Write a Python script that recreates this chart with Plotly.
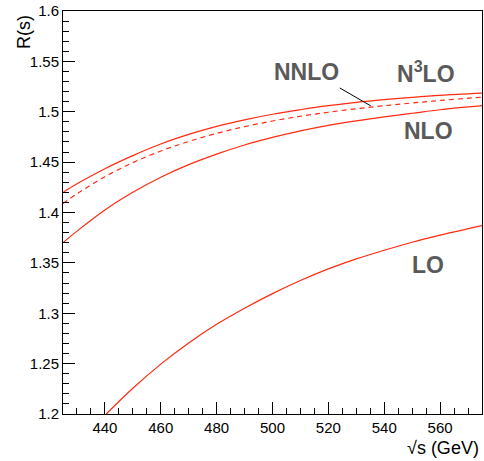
import plotly.graph_objects as go

# Data
x_lo = [440.5, 450, 460, 470, 480, 490, 500, 510, 520, 530, 540, 550, 560, 575]
r_lo = [1.2000, 1.2255, 1.2495, 1.2705, 1.2890, 1.3050, 1.3195, 1.3325, 1.3440, 1.3540, 1.3625, 1.3705, 1.3775, 1.3870]

x_ho = [425, 430, 440, 450, 460, 470, 480, 490, 500, 510, 520, 530, 540, 550, 560, 575]
r_nlo = [1.3700, 1.3815, 1.4025, 1.4200, 1.4350, 1.4475, 1.4580, 1.4670, 1.4745, 1.4810, 1.4865, 1.4910, 1.4950, 1.4985, 1.5020, 1.5060]
r_nnlo = [1.4090, 1.4185, 1.4355, 1.4495, 1.4610, 1.4705, 1.4785, 1.4852, 1.4908, 1.4955, 1.4995, 1.5030, 1.5060, 1.5087, 1.5112, 1.5145]
r_n3lo = [1.4200, 1.4285, 1.4435, 1.4565, 1.4680, 1.4775, 1.4855, 1.4920, 1.4975, 1.5020, 1.5060, 1.5093, 1.5120, 1.5143, 1.5163, 1.5185]

labels = ["LO", "NLO", "NNLO", "N<sup>3</sup>LO"]
label_x = [555.5, 555.8, 512.0, 555.1]
label_y = [1.348, 1.481, 1.539, 1.539]

# pointer segment from NNLO label to dashed curve
pointer_x = [524.1, 535.2]
pointer_y = [1.5236, 1.5058]

RED = "#ff2a10"
FONT = "Liberation Sans, Arial, Helvetica, sans-serif"

fig = go.Figure()
fig.add_trace(go.Scatter(x=x_lo, y=r_lo, mode="lines", line=dict(color=RED, width=1.2, shape="spline")))
fig.add_trace(go.Scatter(x=x_ho, y=r_nlo, mode="lines", line=dict(color=RED, width=1.2, shape="spline")))
fig.add_trace(go.Scatter(x=x_ho, y=r_nnlo, mode="lines", line=dict(color=RED, width=1.2, shape="spline", dash="5px,4px")))
fig.add_trace(go.Scatter(x=x_ho, y=r_n3lo, mode="lines", line=dict(color=RED, width=1.2, shape="spline")))
fig.add_trace(go.Scatter(x=pointer_x, y=pointer_y, mode="lines", line=dict(color="black", width=1)))

for t, lx, ly in zip(labels, label_x, label_y):
    fig.add_annotation(x=lx, y=ly, text="<b>%s</b>" % t, showarrow=False,
                       font=dict(family=FONT, size=23, color="#5a5a5a"))

# axis titles (ROOT style: aligned to the ends)
fig.add_annotation(xref="paper", yref="paper", x=(24 - 63) / 419, y=(414 - 13) / 403,
                   text="R(s)", textangle=-90, showarrow=False, xanchor="center", yanchor="top",
                   font=dict(family=FONT, size=18, color="black"))
fig.add_annotation(xref="paper", yref="paper", x=(481 - 63) / 419, y=(414 - 448) / 403,
                   text="√s (GeV)", showarrow=False, xanchor="right", yanchor="middle",
                   font=dict(family=FONT, size=18, color="black"))

fig.update_xaxes(range=[425, 575], tick0=440, dtick=20, ticks="inside", ticklen=12,
                 tickwidth=1, tickcolor="black", showline=True, linecolor="black", linewidth=1,
                 mirror=True, showgrid=False, zeroline=False,
                 tickfont=dict(family=FONT, size=15, color="black"),
                 minor=dict(dtick=5, tick0=425, ticks="inside", ticklen=6, tickcolor="black", showgrid=False))
fig.update_yaxes(range=[1.2, 1.6], tick0=1.2, dtick=0.05, ticks="inside", ticklen=12,
                 tickwidth=1, tickcolor="black", showline=True, linecolor="black", linewidth=1,
                 mirror=True, showgrid=False, zeroline=False,
                 tickfont=dict(family=FONT, size=15, color="black"),
                 minor=dict(dtick=0.01, tick0=1.2, ticks="inside", ticklen=6, tickcolor="black", showgrid=False))

fig.update_layout(width=484, height=461, margin=dict(l=63, r=2, t=11, b=47),
                  paper_bgcolor="white", plot_bgcolor="white", showlegend=False,
                  font=dict(family=FONT))

fig.write_html("out.html", config={"displayModeBar": False},
               post_script="document.body.style.margin='0';document.body.style.overflow='hidden';")
